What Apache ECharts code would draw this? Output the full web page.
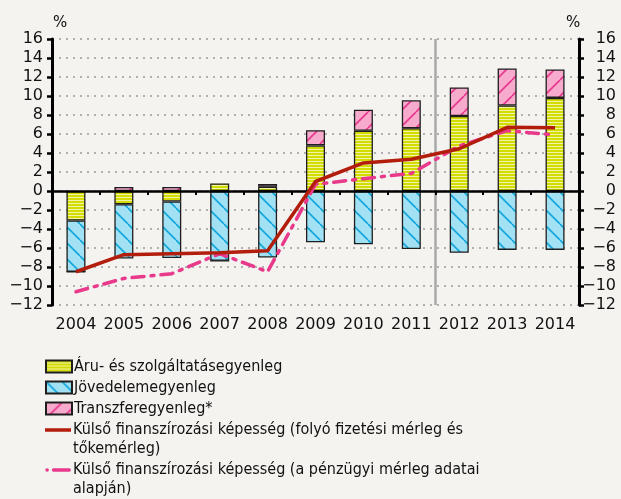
<!DOCTYPE html>
<html>
<head>
<meta charset="utf-8">
<script src="https://cdn.jsdelivr.net/npm/echarts@6/dist/echarts.min.js"></script>
<style>
  html, body { margin: 0; padding: 0; background: #f4f3f0; }
  #chart { width: 621px; height: 499px; }
</style>
</head>
<body>
<div id="chart"></div>
<script>
// Years on the category axis
const years = ['2004', '2005', '2006', '2007', '2008', '2009', '2010', '2011', '2012', '2013', '2014'];

// Components of the balance, % of GDP
const goodsServices = [-3.1, -1.4, -1.1, 0.8, 0.45, 4.8, 6.35, 6.6, 7.9, 9.0, 9.8];
const income = [-5.4, -5.7, -5.95, -7.35, -7.0, -5.4, -5.6, -6.1, -6.5, -6.2, -6.2];
const transfers = [0, 0.42, 0.42, 0, 0.3, 1.6, 2.2, 2.95, 3.0, 3.9, 3.0];

// External financing capacity, two measures
const financingCA = [-8.5, -6.7, -6.6, -6.5, -6.3, 1.0, 2.95, 3.35, 4.45, 6.7, 6.65];
const financingFin = [-10.6, -9.2, -8.7, -6.6, -8.5, 0.7, 1.3, 1.85, 4.75, 6.35, 5.9];

// Y axis range and step
const yMin = -12, yMax = 16, yStep = 2;

// Series names (legend)
const names = [
  'Áru- és szolgáltatásegyenleg',
  'Jövedelemegyenleg',
  'Transzferegyenleg*',
  'Külső finanszírozási képesség (folyó fizetési mérleg és\ntőkemérleg)',
  'Külső finanszírozási képesség (a pénzügyi mérleg adatai\nalapján)'
];

const FONT = 'DejaVu Sans';
const LEG_FONT = 'DejaVu Sans Condensed';

// Hatched fill tiles
function stripeTile() {
  const c = document.createElement('canvas');
  c.width = 4; c.height = 3;
  const g = c.getContext('2d');
  g.fillStyle = '#f1f3a6'; g.fillRect(0, 0, 4, 3);
  g.fillStyle = '#d3dc00'; g.fillRect(0, 0, 4, 2);
  return c;
}
function diagTile(bg, fg, dir) {
  const s = 16;
  const c = document.createElement('canvas');
  c.width = s; c.height = s;
  const g = c.getContext('2d');
  g.fillStyle = bg; g.fillRect(0, 0, s, s);
  g.strokeStyle = fg; g.lineWidth = 1.6;
  g.beginPath();
  for (let k = -1; k <= 1; k++) {
    if (dir > 0) { g.moveTo(k * s, s); g.lineTo(k * s + s, 0); }   // "/"
    else { g.moveTo(k * s, 0); g.lineTo(k * s + s, s); }          // "\"
  }
  g.stroke();
  return c;
}

const yellowFill = { image: stripeTile(), repeat: 'repeat' };
const blueFill = { image: diagTile('#a2e1f3', '#10a6dc', -1), repeat: 'repeat' };
const pinkFill = { image: diagTile('#f6abcd', '#e8378c', 1), repeat: 'repeat' };

const minus = v => String(v).replace('-', '\u2212');

// Legend glyphs for the two lines: drawn in the top row of a 26x31 box so
// the mark sits beside the first line of a two-line label.
const solidIcon = 'path://M0,0L0,0M26,31L26,31M0,4.25L26,4.25L26,7.75L0,7.75Z';
const dashIcon = 'path://M0,0L0,0M26,31L26,31' +
  'M0.3,6a1.8,1.8 0 1,0 3.6,0a1.8,1.8 0 1,0 -3.6,0Z' +
  'M8.5,4.25L24.2,4.25a1.75,1.75 0 0,1 0,3.5L8.5,7.75a1.75,1.75 0 0,1 0,-3.5Z';

const chart = echarts.init(document.getElementById('chart'), null, { renderer: 'canvas' });

const barBase = {
  type: 'bar',
  stack: 'bal',
  barWidth: 19,
  xAxisIndex: 0,
  yAxisIndex: 0
};

const legendText = { fontFamily: LEG_FONT, fontSize: 16, color: '#111', lineHeight: 19 };

chart.setOption({
  backgroundColor: '#f4f3f0',
  animation: false,
  textStyle: { fontFamily: FONT },
  grid: { left: 52, right: 42, top: 39, bottom: 194, containLabel: false },
  legend: [
    {
      data: [names[0], names[1], names[2]],
      orient: 'vertical',
      left: 45, top: 357,
      padding: 0,
      icon: 'rect',
      itemWidth: 26, itemHeight: 12,
      itemGap: 2,
      textStyle: Object.assign({ padding: [0, 0, 0, -3] }, legendText)
    },
    {
      data: [{ name: names[3], icon: solidIcon, itemStyle: { borderWidth: 0 } }],
      left: 45, top: 420.5,
      padding: 0,
      itemWidth: 26, itemHeight: 31,
      textStyle: Object.assign({ padding: [0, 0, 0, -3] }, legendText)
    },
    {
      data: [{ name: names[4], icon: dashIcon, itemStyle: { borderWidth: 0 } }],
      left: 45, top: 460.5,
      padding: 0,
      itemWidth: 26, itemHeight: 31,
      textStyle: Object.assign({ padding: [0, 0, 0, -3] }, legendText)
    }
  ],
  xAxis: [
    {
      // labels along the bottom edge + separator before the forecast years
      type: 'category',
      data: years,
      position: 'bottom',
      z: -1,
      axisLine: { show: false, onZero: false },
      axisTick: { show: false },
      axisLabel: { fontFamily: FONT, fontSize: 16, color: '#111', margin: 12, interval: 0, hideOverlap: false },
      splitLine: {
        show: true,
        interval: (i) => i === 0 || i === 8,
        lineStyle: { color: '#a8a8a8', width: 2.5 }
      }
    },
    {
      // zero line with ticks between categories
      type: 'category',
      data: years,
      position: 'bottom',
      z: 3,
      axisLine: { show: true, onZero: true, lineStyle: { color: '#000', width: 2.5 } },
      axisTick: { show: true, length: 4, lineStyle: { color: '#000', width: 2 } },
      axisLabel: { show: false },
      splitLine: { show: false }
    }
  ],
  yAxis: [
    {
      type: 'value',
      position: 'left',
      min: yMin, max: yMax, interval: yStep,
      axisLine: { show: true, lineStyle: { color: '#000', width: 3 } },
      axisTick: { show: true, length: 5, lineStyle: { color: '#000', width: 2.5 } },
      axisLabel: { fontFamily: FONT, fontSize: 16, color: '#111', margin: 9, formatter: minus },
      splitLine: { show: true, lineStyle: { color: '#9a9a9a', width: 1.5, type: [2, 5] } }
    },
    {
      type: 'value',
      position: 'right',
      min: yMin, max: yMax, interval: yStep,
      axisLine: { show: true, lineStyle: { color: '#000', width: 3 } },
      axisTick: { show: true, length: 5, lineStyle: { color: '#000', width: 2.5 } },
      axisLabel: { fontFamily: FONT, fontSize: 16, color: '#111', margin: 37, align: 'right', formatter: minus },
      splitLine: { show: false }
    }
  ],
  graphic: [
    { type: 'text', left: 53, top: 16, style: { text: '%', fontFamily: FONT, fontSize: 15, fill: '#111' } },
    { type: 'text', left: 566, top: 16, style: { text: '%', fontFamily: FONT, fontSize: 15, fill: '#111' } }
  ],
  series: [
    Object.assign({}, barBase, {
      name: names[0], data: goodsServices,
      itemStyle: { color: yellowFill, borderColor: '#1e1e1e', borderWidth: 1.3 }
    }),
    Object.assign({}, barBase, {
      name: names[1], data: income,
      itemStyle: { color: blueFill, borderColor: '#1e1e1e', borderWidth: 1.3 }
    }),
    Object.assign({}, barBase, {
      name: names[2], data: transfers,
      itemStyle: { color: pinkFill, borderColor: '#1e1e1e', borderWidth: 1.3 }
    }),
    {
      name: names[3], type: 'line', data: financingCA, z: 5,
      symbol: 'none',
      lineStyle: { color: '#b31d0c', width: 3.5 },
      itemStyle: { color: '#b31d0c' }
    },
    {
      name: names[4], type: 'line', data: financingFin, z: 4,
      symbol: 'none',
      lineStyle: { color: '#e8398b', width: 3.5, type: [12, 7, 3, 7], cap: 'round' },
      itemStyle: { color: '#e8398b' }
    }
  ]
});
</script>
</body>
</html>
